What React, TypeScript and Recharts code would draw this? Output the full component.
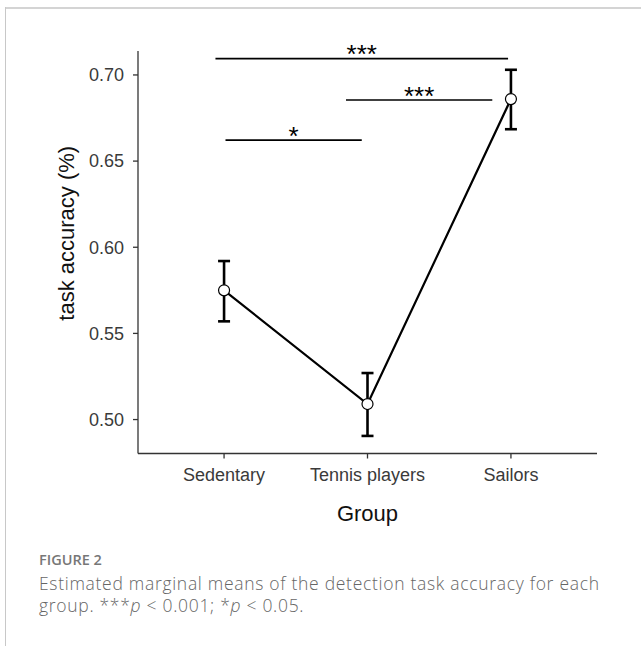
import React from 'react';
import {
  ComposedChart,
  Line,
  XAxis,
  YAxis,
  ErrorBar,
  ReferenceLine,
} from 'recharts';

// groups on the x axis (numeric positions so the brackets can sit between them)
const groups = ['Sedentary', 'Tennis players', 'Sailors'];
const groupPos = [0, 1, 2];

// estimated marginal means and their interval bounds
const means = [0.575, 0.509, 0.686];
const ciLow = [0.557, 0.4905, 0.6685];
const ciHigh = [0.592, 0.527, 0.703];

const yTicks = [0.5, 0.55, 0.6, 0.65, 0.7];

// significance brackets
const sigFrom = [-0.06, 0.85, 0.01];
const sigTo = [1.98, 1.87, 0.96];
const sigLevel = [0.7095, 0.6855, 0.6622];
const sigLabel = ['***', '***', '*'];

const data = groups.map((g, i) => ({
  x: groupPos[i],
  name: g,
  mean: means[i],
  err: [means[i] - ciLow[i], ciHigh[i] - means[i]],
}));

const chartFont = '"Liberation Sans", Arial, Helvetica, sans-serif';
const captionFont = '"Open Sans", "Noto Sans", sans-serif';

const App: React.FC = () => {
  return (
    <div style={{ position: 'relative', width: 641, height: 646, background: '#fff', overflow: 'hidden' }}>
      <style>{'body{margin:0;}'}</style>
      {/* frame */}
      <div style={{ position: 'absolute', left: 6, top: 7, right: 0, height: 0, borderTop: '2px solid #d4d4d4' }} />
      <div style={{ position: 'absolute', left: 5, top: 7, bottom: 0, width: 0, borderLeft: '1.5px solid #c8c8c8' }} />

      <div style={{ position: 'absolute', left: 0, top: 0 }}>
        <ComposedChart
          width={641}
          height={530}
          data={data}
          margin={{ top: 51, right: 44, left: 0, bottom: 6.5 }}
          style={{ fontFamily: chartFont }}
        >
          <XAxis
            dataKey="x"
            type="number"
            domain={[-0.6, 2.6]}
            allowDataOverflow
            ticks={groupPos}
            tickFormatter={(v: number) => groups[v] ?? ''}
            height={70}
            tickSize={5}
            tickMargin={9.5}
            axisLine={{ stroke: '#333', strokeWidth: 1.3 }}
            tickLine={{ stroke: '#333', strokeWidth: 1.3 }}
            tick={{ fontSize: 18, fill: '#3a3a3a', fontFamily: chartFont }}
            label={{ value: 'Group', position: 'insideTop', offset: 51.5, fontSize: 22, fill: '#111', fontFamily: chartFont }}
          />
          <YAxis
            type="number"
            domain={[0.4803, 0.7139]}
            allowDataOverflow
            ticks={yTicks}
            tickFormatter={(v: number) => v.toFixed(2)}
            width={138}
            tickSize={5}
            tickMargin={9}
            axisLine={{ stroke: '#333', strokeWidth: 1.3 }}
            tickLine={{ stroke: '#333', strokeWidth: 1.3 }}
            tick={{ fontSize: 18, fill: '#3a3a3a', fontFamily: chartFont }}
            label={{
              value: 'task accuracy (%)',
              angle: -90,
              position: 'insideLeft',
              offset: 66,
              dy: -19,
              fontSize: 22,
              fill: '#111',
              fontFamily: chartFont,
              style: { textAnchor: 'middle' },
            }}
          />
          {sigLabel.map((lab, i) => (
            <ReferenceLine
              key={'sig' + i}
              segment={[
                { x: sigFrom[i], y: sigLevel[i] },
                { x: sigTo[i], y: sigLevel[i] },
              ]}
              stroke="#000"
              strokeWidth={1.6}
              ifOverflow="visible"
              label={{ value: lab, position: 'top', offset: -4.6, fontSize: 26, fill: '#000', fontFamily: chartFont }}
            />
          ))}
          <Line
            dataKey="mean"
            type="linear"
            stroke="#000"
            strokeWidth={2.2}
            dot={{ r: 5.5, fill: '#fff', stroke: '#000', strokeWidth: 1.2 }}
            activeDot={false}
            isAnimationActive={false}
          >
            <ErrorBar dataKey="err" width={6} stroke="#000" strokeWidth={2.6} direction="y" isAnimationActive={false} />
          </Line>
        </ComposedChart>
      </div>

      {/* caption */}
      <div
        style={{
          position: 'absolute',
          left: 39,
          top: 550,
          fontFamily: captionFont,
          fontSize: 14.5,
          lineHeight: '20px',
          fontWeight: 600,
          color: '#777',
        }}
      >
        FIGURE 2
      </div>
      <div
        style={{
          position: 'absolute',
          left: 39,
          top: 572.2,
          width: 600,
          fontFamily: captionFont,
          fontSize: 17.5,
          letterSpacing: 0.7,
          lineHeight: '22px',
          fontWeight: 300,
          color: '#666',
        }}
      >
        Estimated marginal means of the detection task accuracy for each
        <br />
        group. ***<i>p</i> &lt; 0.001; *<i>p</i> &lt; 0.05.
      </div>
    </div>
  );
};

export default App;
